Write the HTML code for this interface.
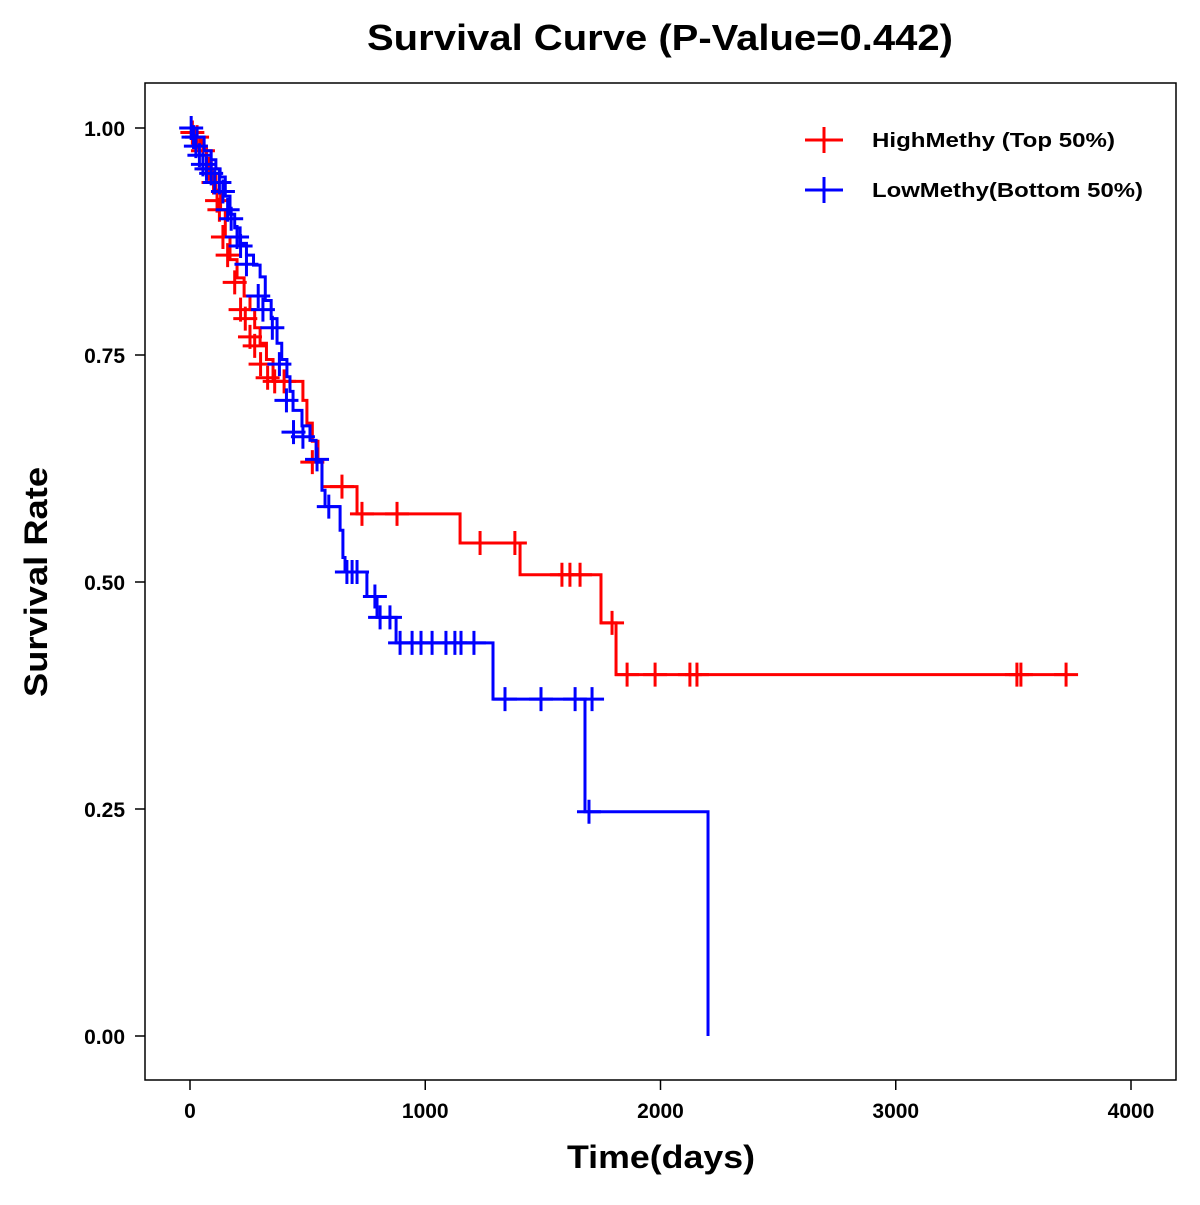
<!DOCTYPE html>
<html><head><meta charset="utf-8"><style>
body{margin:0;background:#fff}
text{font-family:"Liberation Sans",Arial,sans-serif;font-weight:bold}
</style></head><body>
<svg id="chart" width="1200" height="1200" xmlns="http://www.w3.org/2000/svg">
<rect width="1200" height="1200" fill="#fff"/>
<text x="367" y="50" font-size="36" textLength="586" lengthAdjust="spacingAndGlyphs">Survival Curve (P-Value=0.442)</text>
<rect x="145" y="83" width="1031" height="997" fill="none" stroke="#000" stroke-width="1.5"/>
<g id="axes"></g>
<g id="series"></g>
<text x="567" y="1168" font-size="32" textLength="188" lengthAdjust="spacingAndGlyphs">Time(days)</text>
<text transform="translate(47,697) rotate(-90)" font-size="32" textLength="230" lengthAdjust="spacingAndGlyphs">Survival Rate</text>
<g>
<line x1="805" y1="140" x2="843" y2="140" stroke="#f00" stroke-width="3"/><line x1="824" y1="127" x2="824" y2="153" stroke="#f00" stroke-width="3"/>
<text x="872" y="147" font-size="20" textLength="243" lengthAdjust="spacingAndGlyphs">HighMethy (Top 50%)</text>
<line x1="805" y1="190" x2="843" y2="190" stroke="#00f" stroke-width="3"/><line x1="824" y1="177" x2="824" y2="203" stroke="#00f" stroke-width="3"/>
<text x="872" y="197" font-size="20" textLength="271" lengthAdjust="spacingAndGlyphs">LowMethy(Bottom 50%)</text>
</g>
</svg>
<script>
const xTicks=[0,1000,2000,3000,4000];
const yTicks=[0,0.25,0.5,0.75,1.0];
const yTickLabels=["0.00","0.25","0.50","0.75","1.00"];
const highSteps=[[20,.99],[43,.98],[70,.965],[90,.95],[110,.93],[130,.91],[150,.88],[170,.855],[200,.835],[230,.815],[255,.80],[275,.78],[298,.763],[325,.745],[353,.721],[480,.70],[497,.675],[520,.655],[544,.632],[561,.605],[710,.575],[1148,.543],[1403,.508],[1747,.455],[1811,.398]];
const highEnd=3724;
const highCensor=[[10,.995],[30,.99],[55,.975],[80,.955],[100,.94],[115,.92],[125,.91],[140,.88],[160,.86],[190,.83],[215,.80],[235,.79],[255,.77],[275,.76],[300,.74],[330,.725],[360,.721],[400,.721],[520,.632],[646,.605],[731,.575],[880,.575],[1233,.543],[1381,.543],[1581,.508],[1615,.508],[1658,.508],[1794,.455],[1858,.398],[1977,.398],[2125,.398],[2155,.398],[3515,.398],[3532,.398],[3724,.398]];
const lowSteps=[[30,.99],[60,.975],[90,.965],[110,.955],[128,.946],[150,.925],[170,.905],[190,.89],[213,.873],[240,.86],[270,.849],[298,.836],[320,.81],[345,.79],[370,.763],[390,.745],[412,.726],[425,.71],[438,.689],[476,.672],[510,.656],[536,.632],[561,.601],[574,.583],[638,.557],[650,.527],[659,.511],[752,.484],[795,.461],[876,.433],[1288,.371],[1679,.247],[2202,0]];
const lowEnd=2202;
const lowCensor=[[5,1.0],[15,.99],[25,.98],[40,.97],[55,.96],[70,.955],[90,.95],[105,.94],[125,.94],[140,.93],[160,.91],[175,.90],[200,.88],[215,.87],[240,.85],[290,.815],[310,.80],[350,.78],[380,.74],[410,.70],[440,.665],[480,.66],[540,.635],[590,.583],[667,.511],[689,.511],[710,.511],[786,.484],[808,.461],[850,.461],[893,.433],[944,.433],[982,.433],[1029,.433],[1088,.433],[1126,.433],[1152,.433],[1207,.433],[1339,.371],[1492,.371],[1637,.371],[1709,.371],[1696,.247]];
const NS="http://www.w3.org/2000/svg";
const xs=t=>190+t*0.23525, ys=s=>1036-s*908;
function mk(tag,attrs,parent){const e=document.createElementNS(NS,tag);for(const k in attrs)e.setAttribute(k,attrs[k]);parent.appendChild(e);return e;}
const ax=document.getElementById('axes');
xTicks.forEach(t=>{
 const l=mk('line',{x1:xs(t),x2:xs(t),y1:1080,y2:1090,stroke:'#000','stroke-width':1.5},ax);
 
 
 const tx=mk('text',{x:xs(t),y:1118,'font-size':21,'text-anchor':'middle'},ax);tx.textContent=t;
 
 
});
yTicks.forEach((v,i)=>{
 const l=mk('line',{x1:135,x2:145,y1:ys(v),y2:ys(v),stroke:'#000','stroke-width':1.5},ax);
 
 
 const tx=mk('text',{x:125,y:ys(v)+8,'font-size':21,'text-anchor':'end'},ax);tx.textContent=yTickLabels[i];
 
 
});
const sg=document.getElementById('series');
function drawSeries(steps,end,cens,color,name){
 let d=`M${xs(0)},${ys(1)}`;
 steps.forEach(([t,v])=>{d+=`H${xs(t)}V${ys(v)}`;});
 if(end>steps[steps.length-1][0])d+=`H${xs(end)}`;
 const p=mk('path',{d:d,fill:'none',stroke:color,'stroke-width':3},sg);
 
 
 cens.forEach(([t,v])=>{
  const x=xs(t),y=ys(v);
  const c=mk('path',{d:`M${x-12},${y}H${x+12}M${x},${y-12}V${y+12}`,stroke:color,'stroke-width':3},sg);
  
  
 });
}
drawSeries(highSteps,highEnd,highCensor,'#f00','high-methy');
drawSeries(lowSteps,lowEnd,lowCensor,'#00f','low-methy');
</script>
</body></html>
